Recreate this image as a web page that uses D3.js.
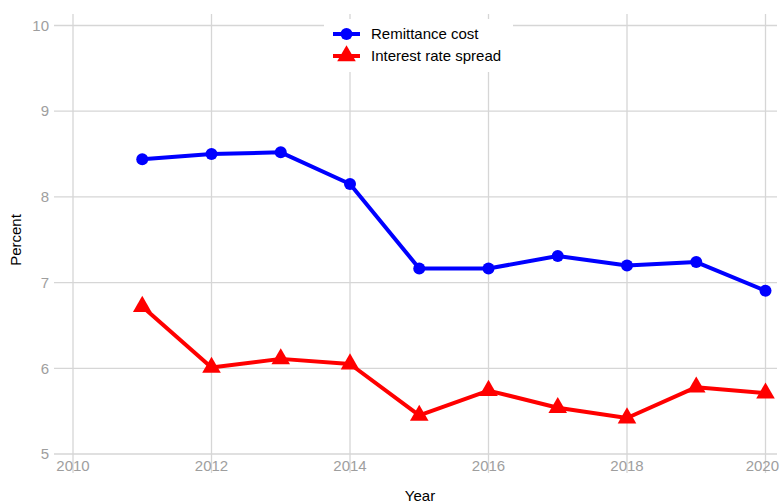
<!DOCTYPE html>
<html><head><meta charset="utf-8">
<script src="https://cdn.jsdelivr.net/npm/d3@7"></script>
<style>body{margin:0;background:#fff;}svg{display:block;font-family:"Liberation Sans",Arial,sans-serif;}</style>
</head><body>
<svg id="c" width="780" height="503"></svg>
<script>
const years = [2011,2012,2013,2014,2015,2016,2017,2018,2019,2020];
const remittance = [8.44,8.50,8.52,8.15,7.165,7.165,7.31,7.20,7.24,6.905];
const spread = [6.72,6.01,6.11,6.05,5.45,5.74,5.54,5.42,5.78,5.71];
const xTicks = [2010,2012,2014,2016,2018,2020];
const yTicks = [5,6,7,8,9,10];
const seriesNames = ["Remittance cost","Interest rate spread"];

(function(){
const svg = d3.select("#c");
const x = d3.scaleLinear().domain([2010,2020]).range([73,765.5]);
const y = d3.scaleLinear().domain([5,10]).range([454,25.5]);
const gLeft = 54, gRight = 777, gTop = 14, gBottom = 473;
const grid = "#d6d6d6", tickCol = "#9e9e9e";
const fs = 15;

const g = svg.append("g");
g.selectAll(".hg").data(yTicks).join("line")
  .attr("x1",gLeft).attr("x2",gRight)
  .attr("y1",d=>y(d)).attr("y2",d=>y(d))
  .attr("stroke",grid).attr("stroke-width",1.3);
g.selectAll(".vg").data(xTicks).join("line")
  .attr("x1",d=>x(d)).attr("x2",d=>x(d))
  .attr("y1",gTop).attr("y2",gBottom)
  .attr("stroke",grid).attr("stroke-width",1.3);
g.selectAll(".yl").data(yTicks).join("text")
  .attr("x",49).attr("y",d=>y(d)).attr("dy","0.35em")
  .attr("text-anchor","end").attr("fill",tickCol).attr("font-size",fs)
  .text(d=>d);
g.selectAll(".xl").data(xTicks).join("text")
  .attr("y",466).attr("dy","0.35em")
  .attr("text-anchor","middle").attr("fill",tickCol).attr("font-size",fs)
  .text(d=>d)
  .attr("x",function(d){ const w=this.getComputedTextLength(); return Math.min(x(d), 779 - w/2); });
svg.append("text").attr("x",420).attr("y",496).attr("dy","0.35em")
  .attr("text-anchor","middle").attr("font-size",fs).attr("fill","#000").text("Year");
svg.append("text").attr("transform","translate(16,240) rotate(-90)").attr("dy","0.35em")
  .attr("text-anchor","middle").attr("font-size",fs).attr("fill","#000").text("Percent");

const lg = svg.append("g");
lg.append("rect").attr("x",324).attr("y",19).attr("width",189).attr("height",53).attr("fill","#fff");

const line = d3.line().x(d=>x(d[0])).y(d=>y(d[1]));
const colors = ["#0000ff","#ff0000"];
const data = [years.map((yr,i)=>[yr,remittance[i]]), years.map((yr,i)=>[yr,spread[i]])];
const tri = d3.symbol().type(d3.symbolTriangle).size(150);
data.forEach((s,k)=>{
  svg.append("path").attr("d",line(s)).attr("fill","none")
    .attr("stroke",colors[k]).attr("stroke-width",4).attr("stroke-linejoin","round");
  if(k===0){
    svg.selectAll(".m0").data(s).join("circle").attr("class","m0")
      .attr("cx",d=>x(d[0])).attr("cy",d=>y(d[1])).attr("r",6).attr("fill",colors[k]);
  } else {
    svg.selectAll(".m1").data(s).join("path").attr("class","m1")
      .attr("d",tri).attr("transform",d=>`translate(${x(d[0])},${y(d[1])})`).attr("fill",colors[k]);
  }
});

seriesNames.forEach((n,k)=>{
  const yy = 34 + k*22;
  lg.append("line").attr("x1",333).attr("x2",360).attr("y1",yy).attr("y2",yy)
    .attr("stroke",colors[k]).attr("stroke-width",4);
  if(k===0) lg.append("circle").attr("cx",346.5).attr("cy",yy).attr("r",6).attr("fill",colors[k]);
  else lg.append("path").attr("d",tri).attr("transform",`translate(346.5,${yy})`).attr("fill",colors[k]);
  lg.append("text").attr("x",371).attr("y",yy).attr("dy","0.35em").attr("font-size",fs)
    .attr("fill","#000").text(n);
});
})();
</script>
</body></html>
